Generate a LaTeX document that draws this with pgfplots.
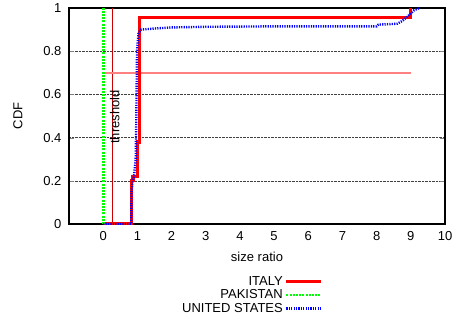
\documentclass[border=0pt]{standalone}
\usepackage{pgfplots}
\pgfplotsset{compat=1.18}
\usepackage{fontspec}
\setmainfont{Liberation Sans}
\begin{document}
\begin{tikzpicture}[x=1pt,y=1pt]
\path[use as bounding box] (0,0) rectangle (452,316);
\begin{axis}[
  at={(69pt,92pt)}, anchor=south west,
  scale only axis, width=376pt, height=216pt,
  xmin=-1, xmax=10, ymin=0, ymax=1,
  xtick={0,1,...,10}, ytick={0,0.2,0.4,0.6,0.8,1},
  yticklabel style={/pgf/number format/fixed, xshift=-4pt},
  xticklabel style={yshift=-4pt},
  /pgf/number format/assume math mode=true,
  tick label style={font=\fontsize{13}{15}\selectfont},
  label style={font=\fontsize{13}{15}\selectfont},
  xlabel={size ratio}, ylabel={CDF},
  xlabel style={yshift=-4pt},
  ylabel style={yshift=14pt},
  axis line style={line width=1.6pt},
  major tick length=5pt, tick align=inside,
  xtick style={draw=none},
  ymajorgrids, grid style={densely dotted, black!75, line width=0.6pt},
  legend plot pos=right, legend cell align=right,
  legend style={draw=none, fill=none, at={(0.676,-0.232)}, anchor=north east,
     font=\fontsize{13}{14}\selectfont, row sep=-1pt, inner sep=0pt},
  legend image code/.code={\draw[#1] (0pt,0pt) -- (35pt,0pt);},
]
% threshold and 0.7 lines
\addplot[forget plot, color=red!80!black, line width=0.8pt] coordinates {(0.28,0) (0.28,1)};
\addplot[forget plot, color=red!50, line width=1.6pt] coordinates {(0,0.7) (9,0.7)};
\node[rotate=90, font=\fontsize{13}{15}\selectfont] at (axis cs:0.34,0.495) {threshold};
% ITALY
\addplot[color=red, line width=3.2pt] coordinates {
(0,0) (0.84,0) (0.84,0.2) (0.87,0.2) (0.87,0.22) (1.0,0.22) (1.0,0.38) (1.06,0.38)
(1.06,0.955) (9.0,0.955) (9.0,1.0)};
\addlegendentry{ITALY}
% PAKISTAN
\addplot[color=green, line width=2.8pt, dash pattern=on 2pt off 1.2pt] coordinates {(0,0) (0,1)};
\addlegendentry{PAKISTAN}
% UNITED STATES
\addplot[color=blue, line width=2.4pt, dash pattern=on 1.2pt off 1.2pt] coordinates {
(0,0) (0.82,0) (0.83,0.15) (0.86,0.2) (0.9,0.22) (0.95,0.3) (0.97,0.5) (0.99,0.8)
(1.03,0.88) (1.1,0.9) (1.5,0.905) (2,0.91) (3,0.913) (5,0.915) (8,0.915) (8.05,0.923)
(8.6,0.927) (8.75,0.94) (8.9,0.96) (9.0,0.975) (9.1,0.99) (9.25,1.0)};
\addlegendentry{UNITED STATES}
\end{axis}
\end{tikzpicture}
\end{document}
